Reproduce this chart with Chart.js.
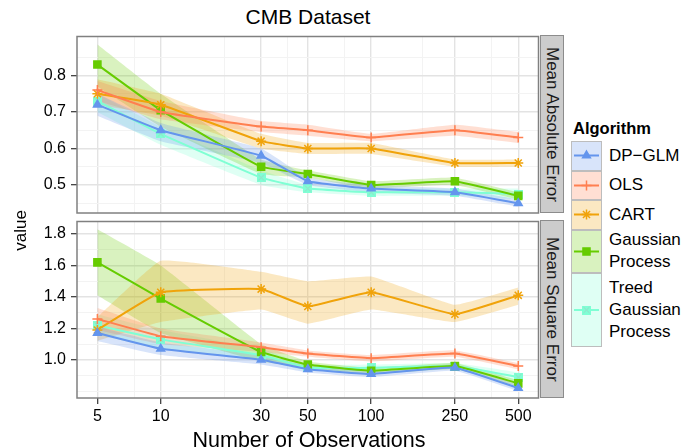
<!DOCTYPE html>
<html>
<head>
<meta charset="utf-8">
<title>CMB Dataset</title>
<script src="https://cdn.jsdelivr.net/npm/chart.js@4.4.1/dist/chart.umd.min.js"></script>
<style>
  body { margin: 0; background: #fff; font-family: "Liberation Sans", Arial, Helvetica, sans-serif; color: #000; }
  #page { position: relative; width: 683px; height: 448px; overflow: hidden; }
  .abs { position: absolute; }
  .strip { position: absolute; left: 540px; width: 24px; height: 178px; background: #cccccc;
           border: 1px solid #8c8c8c; box-sizing: border-box;
           display: flex; align-items: center; justify-content: center; }
  .strip span { writing-mode: vertical-rl; font-size: 17px; color: #1a1a1a; white-space: nowrap; }
  #title { left: 158px; top: 5px; width: 300px; text-align: center; font-size: 21px; line-height: 24px; }
  #ylab { left: 11px; top: 190px; width: 20px; height: 80px; display: flex; align-items: center; justify-content: center; }
  #ylab span { writing-mode: vertical-rl; transform: rotate(180deg); font-size: 17px; white-space: nowrap; }
  #xlab { left: 159px; top: 428px; width: 300px; text-align: center; font-size: 21.5px; line-height: 24px; white-space: nowrap; }
  #legTitle { left: 573px; top: 119px; font-size: 16.5px; font-weight: bold; line-height: 18px; }
  .key { position: absolute; left: 571px; width: 31px; box-sizing: border-box; border: 1px solid #bdbdbd; }
  .key canvas { display: block; }
  .klab { position: absolute; left: 609px; font-size: 17px; line-height: 22px; display: flex; flex-direction: column; justify-content: center; white-space: nowrap; }
</style>
</head>
<body>
<div id="page">
  <div id="title" class="abs">CMB Dataset</div>
  <div class="abs" style="left:0;top:30px"><canvas id="mae" width="545" height="190"></canvas></div>
  <div class="abs" style="left:0;top:215px"><canvas id="mse" width="545" height="215"></canvas></div>
  <div class="strip" style="top:35px"><span>Mean Absolute Error</span></div>
  <div class="strip" style="top:220px"><span>Mean Square Error</span></div>
  <div id="ylab" class="abs"><span>value</span></div>
  <div id="xlab" class="abs">Number of Observations</div>
  <div id="legTitle" class="abs">Algorithm</div>
  <div id="legend"></div>
</div>
<script>
// x axis
const observations = [5, 10, 30, 50, 100, 250, 500];
const xTickLabels = ['5', '10', '30', '50', '100', '250', '500'];
const xMinor = [7.5, 20, 40, 75, 175, 375];

const algorithms = ['DP−GLM', 'OLS', 'CART', 'Gaussian Process', 'Treed Gaussian Process'];

// Mean Absolute Error
const maeTicks = [0.5, 0.6, 0.7, 0.8];
const maeTickLabels = ['0.5', '0.6', '0.7', '0.8'];
const maeMinor = [0.45, 0.55, 0.65, 0.75, 0.85];
const maeDpglm = [0.72, 0.65, 0.58, 0.51, 0.49, 0.48, 0.45];
const maeOls = [0.76, 0.70, 0.66, 0.65, 0.63, 0.65, 0.63];
const maeCart = [0.75, 0.72, 0.62, 0.60, 0.60, 0.56, 0.56];
const maeGp = [0.83, 0.705, 0.55, 0.53, 0.50, 0.51, 0.47];
const maeTgp = [0.73, 0.64, 0.52, 0.49, 0.48, 0.48, 0.475];
const maeDpglmLo = [0.69, 0.62, 0.56, 0.50, 0.48, 0.47, 0.44];
const maeDpglmHi = [0.75, 0.67, 0.60, 0.52, 0.50, 0.49, 0.46];
const maeOlsLo = [0.73, 0.68, 0.645, 0.635, 0.62, 0.635, 0.615];
const maeOlsHi = [0.785, 0.73, 0.675, 0.665, 0.64, 0.665, 0.645];
const maeCartLo = [0.72, 0.69, 0.60, 0.585, 0.585, 0.55, 0.55];
const maeCartHi = [0.79, 0.75, 0.64, 0.615, 0.615, 0.57, 0.57];
const maeGpLo = [0.77, 0.66, 0.53, 0.52, 0.49, 0.50, 0.46];
const maeGpHi = [0.885, 0.75, 0.57, 0.54, 0.51, 0.52, 0.48];
const maeTgpLo = [0.70, 0.61, 0.50, 0.48, 0.47, 0.47, 0.46];
const maeTgpHi = [0.75, 0.66, 0.54, 0.50, 0.49, 0.49, 0.49];

// Mean Square Error
const mseTicks = [1.0, 1.2, 1.4, 1.6, 1.8];
const mseTickLabels = ['1.0', '1.2', '1.4', '1.6', '1.8'];
const mseMinor = [0.8, 0.9, 1.1, 1.3, 1.5, 1.7];
const mseDpglm = [1.17, 1.07, 1.00, 0.94, 0.91, 0.95, 0.82];
const mseOls = [1.26, 1.15, 1.08, 1.04, 1.01, 1.04, 0.96];
const mseCart = [1.19, 1.43, 1.45, 1.34, 1.43, 1.29, 1.41];
const mseGp = [1.62, 1.39, 1.05, 0.97, 0.93, 0.96, 0.85];
const mseTgp = [1.22, 1.13, 1.03, 0.95, 0.95, 0.96, 0.89];
const mseDpglmLo = [1.12, 1.03, 0.97, 0.92, 0.89, 0.93, 0.80];
const mseDpglmHi = [1.21, 1.11, 1.03, 0.96, 0.93, 0.97, 0.84];
const mseOlsLo = [1.19, 1.10, 1.05, 1.02, 0.99, 1.02, 0.94];
const mseOlsHi = [1.33, 1.20, 1.11, 1.06, 1.03, 1.06, 0.98];
const mseCartLo = [1.12, 1.24, 1.32, 1.23, 1.32, 1.24, 1.35];
const mseCartHi = [1.27, 1.63, 1.56, 1.50, 1.53, 1.35, 1.46];
const mseGpLo = [1.41, 1.17, 0.99, 0.95, 0.91, 0.94, 0.83];
const mseGpHi = [1.83, 1.60, 1.10, 0.99, 0.95, 0.98, 0.87];
const mseTgpLo = [1.16, 1.07, 1.00, 0.93, 0.93, 0.94, 0.86];
const mseTgpHi = [1.29, 1.19, 1.07, 0.97, 0.97, 0.98, 0.92];

// styling
const colors = ['#6495ED', '#FF7F50', '#F0A30A', '#66CC00', '#7FFFD4'];
const radii = [4.5, 5, 5, 5, 5];
const keyHeights = [29.5, 29.5, 29.5, 43, 74.5];
const tickFont = { family: '"Liberation Sans", Arial, sans-serif', size: 16 };
const curve = 0.1;

// boxed-x square marker for the treed GP
const boxX = document.createElement('canvas');
boxX.width = 9;
boxX.height = 9;
(function () {
  const g = boxX.getContext('2d');
  g.fillStyle = '#7FFFD4';
  g.fillRect(0, 0, 9, 9);
  g.strokeStyle = '#9ad8c6';
  g.lineWidth = 1;
  g.beginPath();
  g.moveTo(1.5, 1.5); g.lineTo(7.5, 7.5);
  g.moveTo(7.5, 1.5); g.lineTo(1.5, 7.5);
  g.stroke();
})();
const shapes = ['triangle', 'cross', 'star', 'rect', boxX];

function fade(hex, a) {
  const n = parseInt(hex.slice(1), 16);
  return 'rgba(' + (n >> 16) + ',' + ((n >> 8) & 255) + ',' + (n & 255) + ',' + a + ')';
}
const isIn = (arr, v) => arr.some(t => Math.abs(t - v) < 1e-9);

function buildDatasets(mid, lo, hi) {
  const pts = arr => observations.map((x, j) => ({ x: x, y: arr[j] }));
  const lines = algorithms.map((name, i) => ({
    label: name,
    data: pts(mid[i]),
    borderColor: colors[i],
    backgroundColor: colors[i],
    borderWidth: 2,
    pointStyle: shapes[i],
    pointRadius: radii[i],
    pointBorderWidth: 1.5,
    tension: curve,
    fill: false,
    order: 0
  }));
  const bands = [];
  algorithms.forEach((name, i) => {
    const loIdx = lines.length + bands.length;
    bands.push({ data: pts(lo[i]), borderWidth: 0, pointRadius: 0, tension: curve, fill: false, order: 1 });
    bands.push({ data: pts(hi[i]), borderWidth: 0, pointRadius: 0, tension: curve,
                 fill: { target: loIdx }, backgroundColor: fade(colors[i], 0.25), order: 1 });
  });
  return lines.concat(bands);
}

const panelBorder = {
  id: 'panelBorder',
  afterDraw(chart) {
    const { ctx, chartArea: a } = chart;
    ctx.save();
    ctx.strokeStyle = '#808080';
    ctx.lineWidth = 1.5;
    ctx.strokeRect(a.left, a.top, a.right - a.left, a.bottom - a.top);
    ctx.restore();
  }
};

function makePanel(id, datasets, yMin, yMax, yMajor, yLabels, yMinor, showX) {
  return new Chart(document.getElementById(id), {
    type: 'line',
    data: { datasets: datasets },
    options: {
      responsive: false,
      animation: false,
      events: [],
      layout: { padding: { left: 0, right: 6, top: 5, bottom: showX ? 0 : 7 } },
      plugins: { legend: { display: false }, tooltip: { enabled: false } },
      scales: {
        x: {
          type: 'logarithmic',
          min: 4,
          max: 624,
          afterBuildTicks: s => {
            s.ticks = observations.concat(xMinor).sort((a, b) => a - b).map(v => ({ value: v }));
          },
          afterFit: s => { s.height = showX ? 32 : 0; s.paddingLeft = 0; s.paddingRight = 0; },
          border: { display: false },
          grid: {
            color: c => (c.tick && isIn(observations, c.tick.value)) ? '#e3e3e3' : '#f3f3f3',
            lineWidth: c => (c.tick && isIn(observations, c.tick.value)) ? 1.4 : 1,
            drawTicks: showX,
            tickLength: 6,
            tickWidth: 1.2,
            tickColor: c => (c.tick && isIn(observations, c.tick.value)) ? '#333' : 'rgba(0,0,0,0)'
          },
          ticks: {
            display: showX,
            autoSkip: false,
            maxRotation: 0,
            minRotation: 0,
            padding: 3,
            color: '#000',
            font: tickFont,
            callback: v => {
              const k = observations.findIndex(t => Math.abs(t - v) < 1e-9);
              return k >= 0 ? xTickLabels[k] : '';
            }
          }
        },
        y: {
          type: 'linear',
          min: yMin,
          max: yMax,
          afterBuildTicks: s => {
            s.ticks = yMajor.concat(yMinor).sort((a, b) => a - b).map(v => ({ value: v }));
          },
          afterFit: s => { s.width = 77; s.paddingTop = 0; s.paddingBottom = 0; },
          border: { display: false },
          grid: {
            color: c => (c.tick && isIn(yMajor, c.tick.value)) ? '#e3e3e3' : '#f3f3f3',
            lineWidth: c => (c.tick && isIn(yMajor, c.tick.value)) ? 1.4 : 1,
            tickLength: 6,
            tickWidth: 1.2,
            tickColor: c => (c.tick && isIn(yMajor, c.tick.value)) ? '#333' : 'rgba(0,0,0,0)'
          },
          ticks: {
            autoSkip: false,
            padding: 5,
            color: '#000',
            font: tickFont,
            callback: v => {
              const k = yMajor.findIndex(t => Math.abs(t - v) < 1e-9);
              return k >= 0 ? yLabels[k] : '';
            }
          }
        }
      }
    },
    plugins: [panelBorder]
  });
}

makePanel('mae',
  buildDatasets([maeDpglm, maeOls, maeCart, maeGp, maeTgp],
                [maeDpglmLo, maeOlsLo, maeCartLo, maeGpLo, maeTgpLo],
                [maeDpglmHi, maeOlsHi, maeCartHi, maeGpHi, maeTgpHi]),
  0.423, 0.907, maeTicks, maeTickLabels, maeMinor, false);

makePanel('mse',
  buildDatasets([mseDpglm, mseOls, mseCart, mseGp, mseTgp],
                [mseDpglmLo, mseOlsLo, mseCartLo, mseGpLo, mseTgpLo],
                [mseDpglmHi, mseOlsHi, mseCartHi, mseGpHi, mseTgpHi]),
  0.757, 1.88, mseTicks, mseTickLabels, mseMinor, true);

// legend
const legend = document.getElementById('legend');
let keyTop = 141;
algorithms.forEach((name, i) => {
  const h = keyHeights[i];
  const key = document.createElement('div');
  key.className = 'key';
  key.style.top = keyTop + 'px';
  key.style.height = h + 'px';
  key.style.background = fade(colors[i], 0.25);
  const cv = document.createElement('canvas');
  cv.width = 29;
  cv.height = Math.floor(h - 2);
  key.appendChild(cv);
  legend.appendChild(key);
  const c = cv.getContext('2d');
  const cy = cv.height / 2;
  c.strokeStyle = colors[i];
  c.fillStyle = colors[i];
  c.lineWidth = 2;
  c.beginPath();
  c.moveTo(2, cy);
  c.lineTo(cv.width - 2, cy);
  c.stroke();
  c.lineWidth = 1.5;
  if (Chart.helpers && Chart.helpers.drawPoint) {
    Chart.helpers.drawPoint(c, { pointStyle: shapes[i], radius: radii[i], borderWidth: 1.5, rotation: 0 }, cv.width / 2, cy);
  }
  const lab = document.createElement('div');
  lab.className = 'klab';
  lab.style.top = keyTop + 'px';
  lab.style.height = h + 'px';
  name.split(' ').forEach(w => {
    const s = document.createElement('div');
    s.textContent = w;
    lab.appendChild(s);
  });
  legend.appendChild(lab);
  keyTop += h;
});
</script>
</body>
</html>
